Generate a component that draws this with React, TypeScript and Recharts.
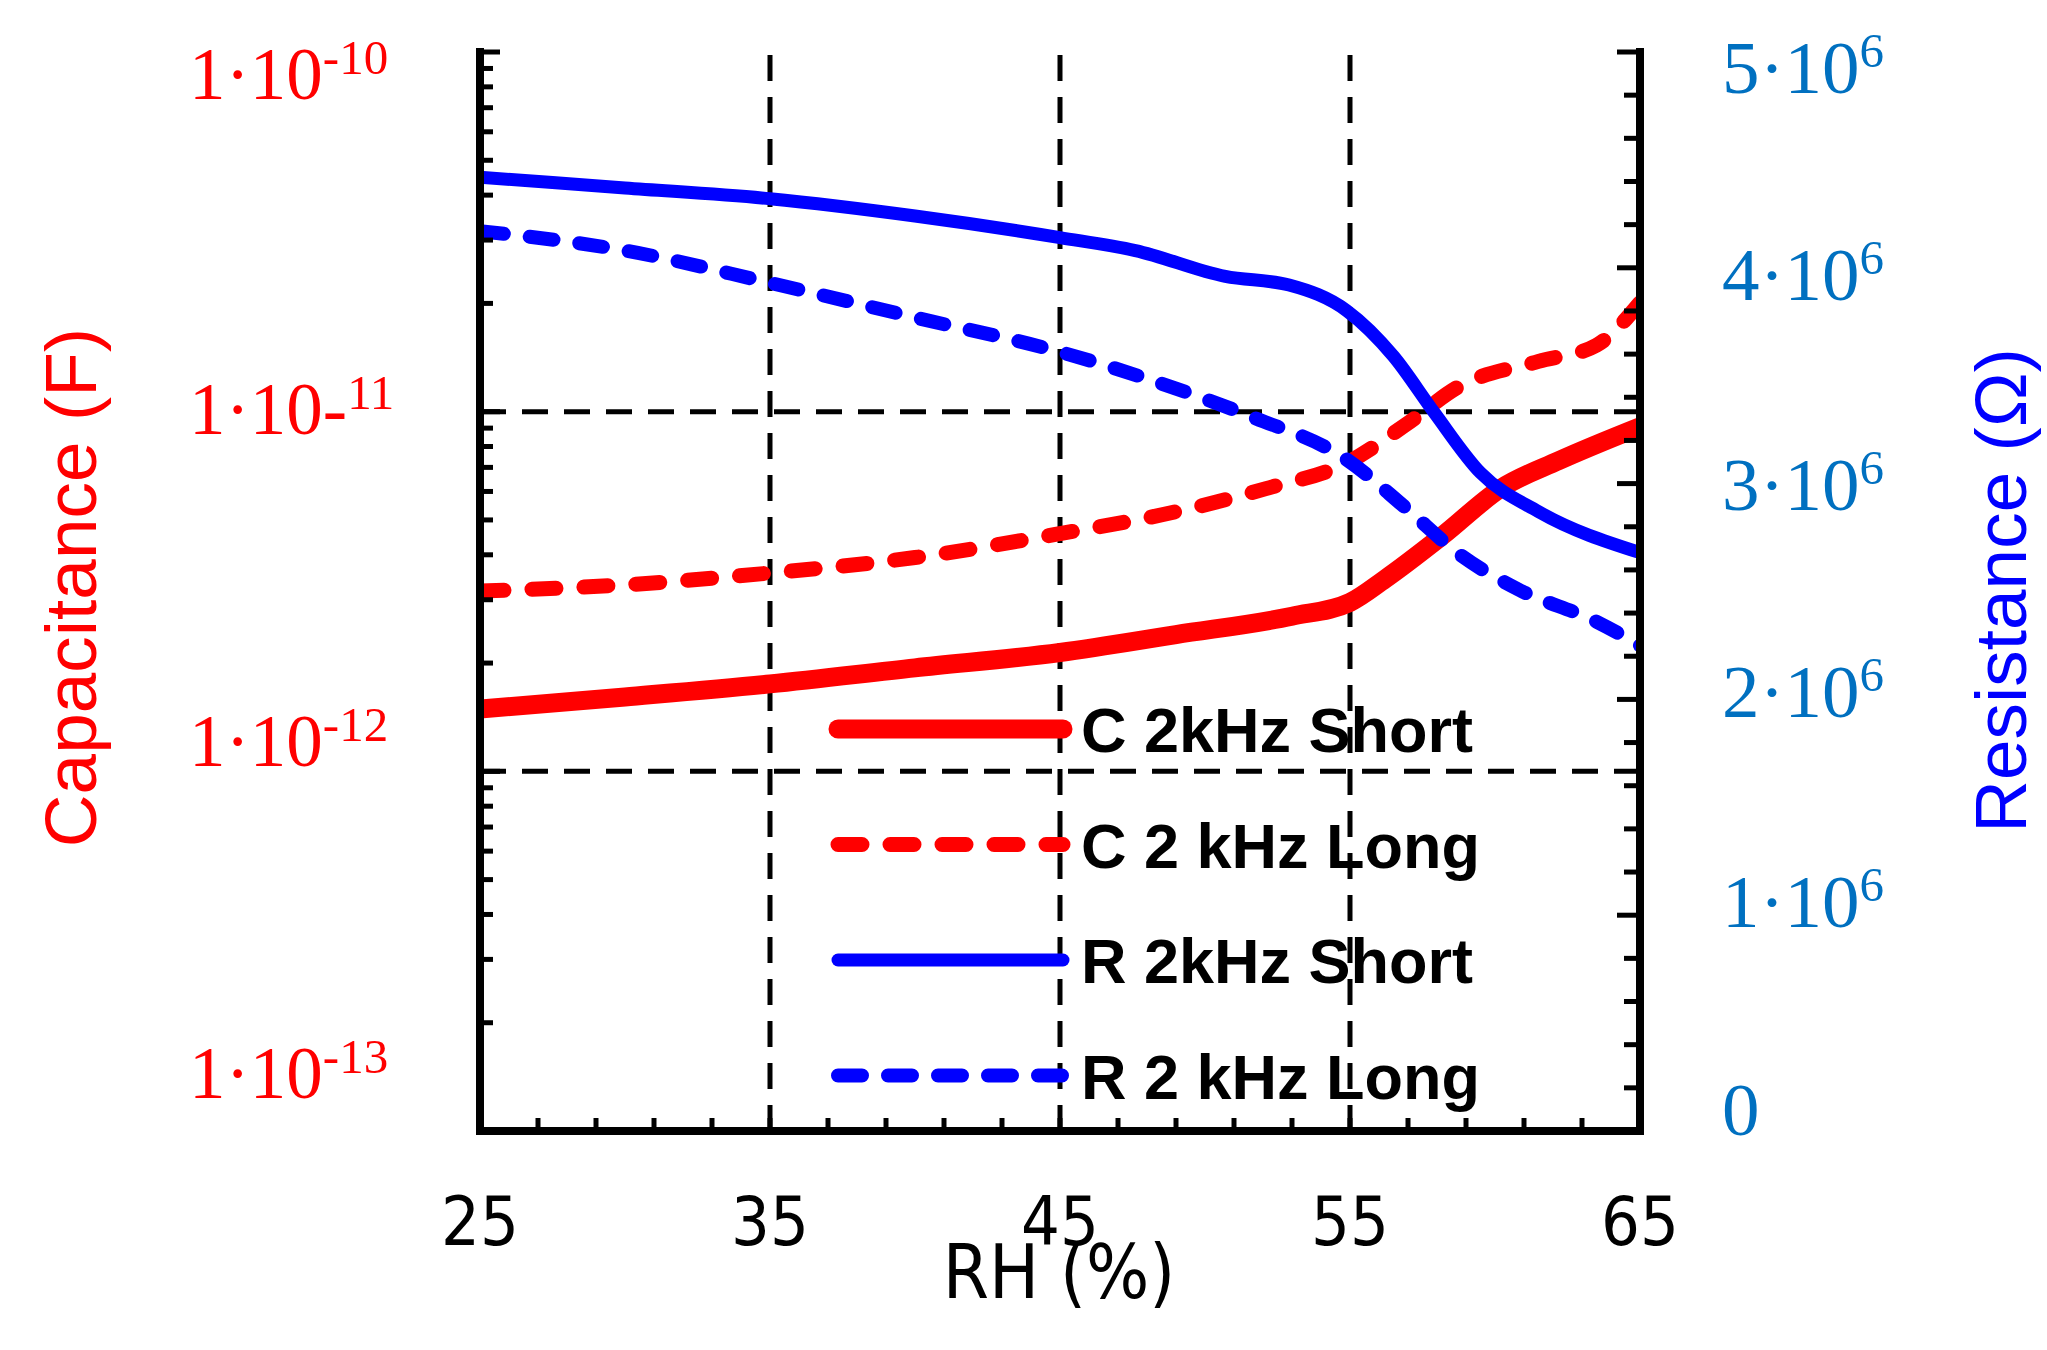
import React from 'react';
import { LineChart, Line, XAxis, YAxis, ReferenceLine, Legend, Label } from 'recharts';

// ---- data ----
const rhCShort = [25, 30, 35, 40, 45, 49, 53, 55, 56.2, 58.2, 60.2, 62.2, 65];
const cShort = [1.49e-12, 1.61e-12, 1.75e-12, 1.94e-12, 2.14e-12, 2.4e-12, 2.7e-12, 2.95e-12, 3.42e-12, 4.53e-12, 6.12e-12, 7.31e-12, 9.08e-12];

const rhCLong = [25, 30, 35, 40, 45, 49, 52.1, 54.9, 56.9, 58.8, 61.5, 63.5, 65];
const cLong = [3.17e-12, 3.3e-12, 3.56e-12, 3.93e-12, 4.58e-12, 5.27e-12, 6.11e-12, 7.21e-12, 9.17e-12, 1.18e-11, 1.38e-11, 1.53e-11, 2.01e-11];

const rhRShort = [25, 30, 35, 40, 45, 47.6, 50.7, 52.9, 54.9, 56.5, 57.9, 59.5, 61.5, 65];
const rShort = [4.42e6, 4.37e6, 4.32e6, 4.24e6, 4.14e6, 4.08e6, 3.96e6, 3.92e6, 3.8e6, 3.59e6, 3.33e6, 3.05e6, 2.87e6, 2.68e6];

const rhRLong = [25, 30, 35, 40, 45, 49, 51.6, 54.9, 56.9, 58.8, 60.8, 63.5, 65];
const rLong = [4.17e6, 4.08e6, 3.93e6, 3.77e6, 3.61e6, 3.44e6, 3.31e6, 3.11e6, 2.89e6, 2.67e6, 2.51e6, 2.36e6, 2.25e6];

const seriesNames = ['C 2kHz Short', 'C 2 kHz Long', 'R 2kHz Short', 'R 2 kHz Long'];

// ticks
const xTicks = [25, 27, 29, 31, 33, 35, 37, 39, 41, 43, 45, 47, 49, 51, 53, 55, 57, 59, 61, 63, 65];
const xLabelTicks = [25, 35, 45, 55, 65];
const xGrid = [35, 45, 55];
const cDecades = [1e-13, 1e-12, 1e-11, 1e-10];
const cGrid = [1e-11, 1e-12];
const minorMultipliers = [2, 3, 4, 5, 6, 7, 8, 9];
const rStep = 2e5;

const zip = (xs: number[], ys: number[]) => xs.map((x, i) => ({ rh: x, v: ys[i] }));
const dataCShort = zip(rhCShort, cShort);
const dataCLong = zip(rhCLong, cLong);
const dataRShort = zip(rhRShort, rShort);
const dataRLong = zip(rhRLong, rLong);

const cTicks: number[] = [];
cDecades.forEach((d, i) => {
  cTicks.push(d);
  if (i < cDecades.length - 1) minorMultipliers.forEach((m) => cTicks.push(d * m));
});
const rTicks: number[] = [];
for (let k = 0; k <= 25; k++) rTicks.push(k * rStep);

// ---- styles ----
const RED = '#ff0000';
const BLUE = '#0000ff';
const RBLUE = '#0070c0';
const SERIF = "'Liberation Serif', 'Times New Roman', serif";
const SANS = "'Liberation Sans', Arial, sans-serif";
const NARROW = "'Liberation Sans Narrow', 'DejaVu Sans Condensed', 'Liberation Sans', sans-serif";

const leftLabelOffset: Record<string, number> = { '-10': 47, '-11': 22, '-12': -5, '-13': -33 };
const rightLabelOffset: Record<string, number> = { '5': 41, '4': 32, '3': 26, '2': 18, '1': 12, '0': 4 };

const LeftTick = (props: any) => {
  const { x, y, payload } = props;
  const v = payload.value;
  const e = Math.round(Math.log10(v));
  const major = Math.abs(v - Math.pow(10, e)) / Math.pow(10, e) < 1e-6;
  const len = major ? 20 : 13;
  return (
    <g>
      <line x1={x} x2={x + len} y1={y} y2={y} stroke="#000" strokeWidth={5} />
      {major && (
        <text x={x - 291} y={y + leftLabelOffset[String(e)]} fill={RED} fontFamily={SERIF} fontSize={73}>
          {e === -11 ? '1·10-' : '1·10'}
          <tspan fontSize={49} dy={-25}>{e === -11 ? '11' : String(e)}</tspan>
        </text>
      )}
    </g>
  );
};

const RightTick = (props: any) => {
  const { x, y, payload } = props;
  const v = payload.value;
  const m = v / 1e6;
  const major = Math.abs(m - Math.round(m)) < 1e-9;
  const len = major ? 23 : 16;
  const k = Math.round(m);
  return (
    <g>
      <line x1={x} x2={x - len} y1={y} y2={y} stroke="#000" strokeWidth={5} />
      {major && (
        <text x={x + 82} y={y + rightLabelOffset[String(k)]} fill={RBLUE} fontFamily={SERIF} fontSize={75}>
          {k === 0 ? '0' : `${k}·10`}
          {k !== 0 && <tspan fontSize={49} dy={-26}>6</tspan>}
        </text>
      )}
    </g>
  );
};

const BottomTick = (props: any) => {
  const { x, y, payload } = props;
  const v = payload.value;
  const labeled = xLabelTicks.indexOf(v) >= 0;
  return (
    <g>
      <line x1={x} x2={x} y1={y} y2={y - 13} stroke="#000" strokeWidth={5} />
      {labeled && (
        <text x={x} y={y + 114} textAnchor="middle" fill="#000" fontFamily={NARROW} fontSize={68}>
          {v}
        </text>
      )}
    </g>
  );
};

const CapTitle = (props: any) => {
  const vb = props.viewBox;
  const cx = vb.x - 84;
  const cy = vb.y + vb.height / 2 - 4;
  return (
    <text x={cx} y={cy} transform={`rotate(-90 ${cx} ${cy})`} textAnchor="middle" fill={RED} fontFamily={SANS} fontSize={73}>
      Capacitance (F)
    </text>
  );
};

const ResTitle = (props: any) => {
  const vb = props.viewBox;
  const cx = vb.x + 386;
  const cy = vb.y + vb.height / 2 - 1;
  return (
    <text x={cx} y={cy} transform={`rotate(-90 ${cx} ${cy})`} textAnchor="middle" fill={BLUE} fontFamily={SANS} fontSize={73}>
      Resistance (Ω)
    </text>
  );
};

const RHTitle = (props: any) => {
  const vb = props.viewBox;
  return (
    <text x={vb.x + vb.width / 2 - 1} y={vb.y + 167} textAnchor="middle" fill="#000" fontFamily={NARROW} fontSize={74}>
      RH (%)
    </text>
  );
};

const LegendContent = (props: any) => {
  const payload: any[] = props.payload || [];
  const items = seriesNames
    .map((n) => payload.find((p) => p.value === n))
    .filter(Boolean);
  return (
    <svg width={720} height={440} style={{ overflow: 'visible', display: 'block' }}>
      {items.map((e: any, i: number) => {
        const p = e.payload || {};
        const y = 49 + i * 115.5;
        return (
          <g key={e.value}>
            <line
              x1={8}
              x2={233}
              y1={y}
              y2={y}
              stroke={e.color}
              strokeWidth={p.strokeWidth}
              strokeDasharray={p.strokeDasharray}
              strokeLinecap="round"
            />
            <text x={251} y={y + 23} fill="#000" fontFamily={SANS} fontWeight="bold" fontSize={63}>
              {e.value}
            </text>
          </g>
        );
      })}
    </svg>
  );
};

const gridStyle = { stroke: '#000', strokeWidth: 5, strokeDasharray: '26 16' };
const frame = { stroke: '#000', strokeWidth: 8, strokeLinecap: 'square' as const };

export default function App() {
  return (
    <div style={{ position: 'absolute', left: 0, top: 0, width: 2047, height: 1350, background: '#fff' }}>
      <LineChart width={2047} height={1350} margin={{ top: 52, right: 107, bottom: 119, left: 180 }}>
        <XAxis
          dataKey="rh"
          type="number"
          domain={[25, 65]}
          ticks={xTicks}
          interval={0}
          allowDataOverflow
          tickSize={0}
          tickMargin={0}
          tickLine={false}
          axisLine={frame}
          tick={<BottomTick />}
          height={100}
        >
          <Label content={<RHTitle />} />
        </XAxis>
        <XAxis
          xAxisId="top"
          orientation="top"
          type="number"
          domain={[25, 65]}
          height={0}
          tick={false}
          tickLine={false}
          axisLine={frame}
        />
        <YAxis
          yAxisId="C"
          orientation="left"
          scale="log"
          type="number"
          domain={[1e-13, 1e-10]}
          allowDataOverflow
          ticks={cTicks}
          interval={0}
          tickSize={0}
          tickMargin={0}
          tickLine={false}
          axisLine={frame}
          tick={<LeftTick />}
          width={300}
        >
          <Label content={<CapTitle />} />
        </YAxis>
        <YAxis
          yAxisId="R"
          orientation="right"
          type="number"
          domain={[0, 5e6]}
          allowDataOverflow
          ticks={rTicks}
          interval={0}
          tickSize={0}
          tickMargin={0}
          tickLine={false}
          axisLine={frame}
          tick={<RightTick />}
          width={300}
        >
          <Label content={<ResTitle />} />
        </YAxis>

        {xGrid.map((v) => (
          <ReferenceLine key={'gx' + v} x={v} yAxisId="C" {...gridStyle} />
        ))}
        {cGrid.map((v) => (
          <ReferenceLine key={'gy' + v} y={v} yAxisId="C" {...gridStyle} />
        ))}

        <Line
          name={seriesNames[0]}
          data={dataCShort}
          dataKey="v"
          yAxisId="C"
          type="monotone"
          stroke={RED}
          strokeWidth={19}
          strokeLinecap="round"
          dot={false}
          isAnimationActive={false}
        />
        <Line
          name={seriesNames[1]}
          data={dataCLong}
          dataKey="v"
          yAxisId="C"
          type="monotone"
          stroke={RED}
          strokeWidth={15}
          strokeDasharray="24 28"
          strokeLinecap="round"
          dot={false}
          isAnimationActive={false}
        />
        <Line
          name={seriesNames[2]}
          data={dataRShort}
          dataKey="v"
          yAxisId="R"
          type="monotone"
          stroke={BLUE}
          strokeWidth={13}
          strokeLinecap="round"
          dot={false}
          isAnimationActive={false}
        />
        <Line
          name={seriesNames[3]}
          data={dataRLong}
          dataKey="v"
          yAxisId="R"
          type="monotone"
          stroke={BLUE}
          strokeWidth={14}
          strokeDasharray="24 26"
          strokeLinecap="round"
          dot={false}
          isAnimationActive={false}
        />
        <Legend
          layout="horizontal"
          verticalAlign="middle"
          align="center"
          content={<LegendContent />}
          wrapperStyle={{ position: 'absolute', left: 830, top: 680, width: 720, height: 440 }}
        />
      </LineChart>
    </div>
  );
}
